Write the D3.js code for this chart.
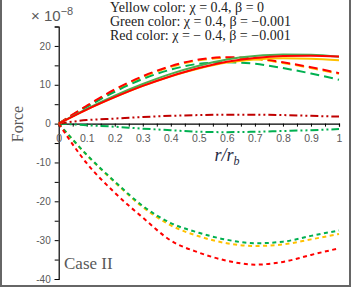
<!DOCTYPE html>
<html>
<head>
<meta charset="utf-8">
<script src="https://cdn.jsdelivr.net/npm/d3@7"></script>
<style>
  body { margin: 0; background: #fff; }
  svg { display: block; }
</style>
</head>
<body>
<div id="chart"></div>
<script>
// r/rb sample points
var xs = [0, 0.1, 0.2, 0.3, 0.4, 0.5, 0.6, 0.7, 0.8, 0.9, 1];

// total force (solid)
var yellowSolid = [0, 3.6, 6.8, 9.7, 12.2, 14.2, 15.7, 16.5, 16.8, 16.7, 16.3];
var greenSolid  = [0, 3.8, 7.2, 10.2, 12.8, 14.9, 16.5, 17.4, 17.8, 17.7, 17.2];
var redSolid    = [0, 3.6, 6.8, 9.7, 12.2, 14.3, 15.9, 16.9, 17.4, 17.5, 17.3];

// long dashed
var yellowLong = [0, 4.5, 8.6, 12.0, 14.6, 16.3, 16.9, 16.6, 15.6, 14.3, 12.8];
var greenLong  = [0, 4.3, 8.2, 11.5, 13.9, 15.4, 15.8, 15.4, 14.3, 12.9, 11.3];
var redLong    = [0, 4.6, 8.8, 12.2, 14.8, 16.5, 17.1, 16.8, 15.8, 14.5, 13.0];

// short dashed (negative)
var yellowShort = [0, -8.1, -15.1, -21.5, -26.2, -29.0, -30.8, -31.5, -31.1, -29.8, -28.4];
var greenShort  = [0, -8.0, -14.9, -21.2, -25.6, -28.1, -29.9, -30.8, -30.4, -28.9, -27.5];
var redShort    = [0, -10.2, -17.8, -24.2, -30.1, -33.2, -35.3, -36.3, -35.6, -33.8, -32.1];

// dash-dot-dot
var greenDot = [0, -0.4, -0.8, -1.3, -1.7, -2.1, -2.2, -2.1, -1.9, -1.7, -1.4];
var redDot   = [0, 0.9, 1.3, 1.7, 2.0, 2.2, 2.3, 2.3, 2.2, 2.0, 1.8];

var xTickLabels = [0, 0.1, 0.2, 0.3, 0.4, 0.5, 0.6, 0.7, 0.8, 0.9, 1];
var yTickLabels = [-40, -30, -20, -10, 0, 10, 20];

var legendLines = [
  "Yellow color: \u03c7 = 0.4, \u03b2 = 0",
  "Green color: \u03c7 = 0.4, \u03b2 = \u22120.001",
  "Red color: \u03c7 = \u2212 0.4, \u03b2 = \u22120.001"
];

var width = 355, height = 288;
var gray = "#595959";
var YEL = "#ffc000", GRN = "#00b050", RED = "#ff0000", DRED = "#c00000";

var svg = d3.select("#chart").append("svg")
    .attr("width", width)
    .attr("height", height);

// frame
svg.append("rect")
    .attr("x", 1).attr("y", -5)
    .attr("width", 349).attr("height", 291)
    .attr("fill", "none")
    .attr("stroke", "#666")
    .attr("stroke-width", 2);

var x = d3.scaleLinear().domain([0, 1]).range([58.7, 339]);
var y = d3.scaleLinear().domain([-40, 25]).range([279, 26.5]);

// y axis
var yAxis = svg.append("g")
    .attr("transform", "translate(" + x(0) + ",0)")
    .call(d3.axisLeft(y).tickValues(d3.range(-40, 26, 5)).tickSize(4).tickFormat(function (d) {
        return yTickLabels.indexOf(d) >= 0 ? d : "";
    }));
yAxis.select(".domain").attr("stroke", "#000").attr("stroke-width", 1.2);
yAxis.selectAll(".tick line").attr("stroke", "#000");
yAxis.selectAll("text")
    .attr("fill", gray)
    .attr("x", -8)
    .style("font-family", "Liberation Sans, Arial, sans-serif")
    .style("font-size", "10px");

// x axis
var xAxis = svg.append("g")
    .attr("transform", "translate(0," + y(0) + ")")
    .call(d3.axisBottom(x).tickValues(d3.range(0, 1.001, 0.05)).tickSize(3).tickFormat(function (d) {
        var r = Math.round(d * 100) / 100;
        return xTickLabels.indexOf(r) >= 0 ? r : "";
    }));
xAxis.select(".domain").attr("stroke", "#000").attr("stroke-width", 1.2);
xAxis.selectAll(".tick line").attr("stroke", "#000");
xAxis.selectAll("text")
    .attr("fill", gray)
    .attr("y", 11)
    .style("font-family", "Liberation Sans, Arial, sans-serif")
    .style("font-size", "10.5px");

var line = d3.line()
    .x(function (d, i) { return x(xs[i]); })
    .y(function (d) { return y(d); })
    .curve(d3.curveMonotoneX);

var series = [
  {v: yellowShort, c: YEL, dash: "4,3.5", w: 2},
  {v: greenShort, c: GRN, dash: "4,3.5", w: 2},
  {v: redShort, c: RED, dash: "4,3.5", w: 2},
  {v: greenDot, c: GRN, dash: "8,3,2,3,2,3", w: 2},
  {v: redDot, c: DRED, dash: "8,3,2,3,2,3", w: 2},
  {v: yellowLong, c: YEL, dash: "9,5", w: 2},
  {v: greenLong, c: GRN, dash: "9,5", w: 2},
  {v: redLong, c: RED, dash: "9,5", w: 2},
  {v: yellowSolid, c: YEL, dash: null, w: 2},
  {v: greenSolid, c: "#4caf50", dash: null, w: 2},
  {v: redSolid, c: RED, dash: null, w: 2}
];

svg.selectAll(".series")
    .data(series)
    .enter().append("path")
    .attr("class", "series")
    .attr("fill", "none")
    .attr("stroke", function (d) { return d.c; })
    .attr("stroke-width", function (d) { return d.w; })
    .attr("stroke-dasharray", function (d) { return d.dash; })
    .attr("d", function (d) { return line(d.v); });

// multiplier
var mult = svg.append("text")
    .attr("x", 31).attr("y", 21)
    .attr("fill", gray)
    .style("font-family", "Liberation Sans, Arial, sans-serif")
    .style("font-size", "15px");
mult.append("tspan").text("\u00d7 10");
mult.append("tspan").attr("dy", -6).style("font-size", "11px").text("\u22128");

// legend
svg.selectAll(".legend")
    .data(legendLines)
    .enter().append("text")
    .attr("class", "legend")
    .attr("x", 110)
    .attr("y", function (d, i) { return 12 + i * 14; })
    .attr("fill", "#222")
    .style("font-family", "Liberation Serif, Times New Roman, serif")
    .style("font-size", "14px")
    .text(function (d) { return d; });

// axis titles
svg.append("text")
    .attr("transform", "translate(23,124) rotate(-90)")
    .attr("text-anchor", "middle")
    .attr("fill", gray)
    .style("font-family", "Liberation Serif, Times New Roman, serif")
    .style("font-size", "16px")
    .text("Force");

var xt = svg.append("text")
    .attr("x", 227).attr("y", 161)
    .attr("text-anchor", "middle")
    .attr("fill", "#1f2a44")
    .style("font-family", "Liberation Serif, Times New Roman, serif")
    .style("font-style", "italic")
    .style("font-size", "18px");
xt.append("tspan").text("r/r");
xt.append("tspan").attr("dy", 4).style("font-size", "12px").text("b");

svg.append("text")
    .attr("x", 64).attr("y", 269)
    .attr("fill", gray)
    .style("font-family", "Liberation Serif, Times New Roman, serif")
    .style("font-size", "17px")
    .text("Case II");
</script>
</body>
</html>
